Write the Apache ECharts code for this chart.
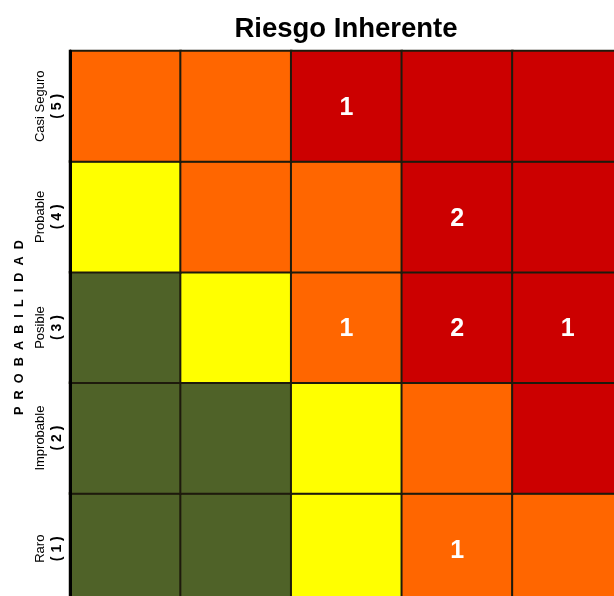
<!DOCTYPE html>
<html>
<head>
<meta charset="utf-8">
<script src="https://cdn.jsdelivr.net/npm/echarts@6/dist/echarts.min.js"></script>
<style>
  html, body { margin: 0; padding: 0; background: #fff; }
  #main { width: 614px; height: 596px; }
</style>
</head>
<body>
<div id="main"></div>
<script>
// impacto (columns) and probabilidad (rows, bottom to top)
var impactCats = ['1', '2', '3', '4', '5'];
var probNames = ['Raro', 'Improbable', 'Posible', 'Probable', 'Casi Seguro'];
var probNums = ['( 1 )', '( 2 )', '( 3 )', '( 4 )', '( 5 )'];

// risk level of each cell: 0 bajo, 1 moderado, 2 alto, 3 extremo
var levelsRaro = [0, 0, 1, 2, 2];
var levelsImprobable = [0, 0, 1, 2, 3];
var levelsPosible = [0, 1, 2, 3, 3];
var levelsProbable = [1, 2, 2, 3, 3];
var levelsCasiSeguro = [2, 2, 3, 3, 3];

// number of risks in each cell
var countsRaro = [0, 0, 0, 1, 0];
var countsImprobable = [0, 0, 0, 0, 0];
var countsPosible = [0, 0, 1, 2, 1];
var countsProbable = [0, 0, 0, 2, 0];
var countsCasiSeguro = [0, 0, 1, 0, 0];

var levelColors = ['#4F6228', '#FFFF00', '#FF6600', '#CC0000'];

var levelRows = [levelsRaro, levelsImprobable, levelsPosible, levelsProbable, levelsCasiSeguro];
var countRows = [countsRaro, countsImprobable, countsPosible, countsProbable, countsCasiSeguro];

var cells = [];
levelRows.forEach(function (row, y) {
  row.forEach(function (lvl, x) {
    cells.push([x, y, lvl, countRows[y][x]]);
  });
});

var chart = echarts.init(document.getElementById('main'));
chart.setOption({
  animation: false,
  textStyle: { fontFamily: 'Liberation Sans, Arial, sans-serif' },
  title: {
    text: 'Riesgo Inherente',
    left: 346,
    top: 15,
    padding: 0,
    textAlign: 'center',
    textStyle: { fontSize: 27.5, fontWeight: 'bold', color: '#000' }
  },
  grid: {
    left: 70,
    top: 51,
    width: 553,
    height: 553,
    outerBoundsMode: 'none'
  },
  xAxis: {
    type: 'category',
    data: impactCats,
    axisLabel: { show: false },
    axisTick: { show: false },
    axisLine: { show: false },
    splitLine: { show: false }
  },
  yAxis: {
    type: 'category',
    data: probNames,
    z: 10,
    name: 'P  R  O  B  A  B  I  L  I  D  A  D',
    nameLocation: 'middle',
    nameGap: 44,
    nameTextStyle: { fontSize: 12.7, fontWeight: 'bold', color: '#000' },
    axisLine: { show: true, lineStyle: { color: '#000', width: 3 } },
    axisTick: { show: false },
    splitLine: { show: false },
    axisLabel: {
      rotate: 90,
      margin: 4,
      formatter: function (value, idx) {
        return '{a|' + value + '}\n{b|' + probNums[idx] + '}';
      },
      rich: {
        a: { fontSize: 13, color: '#000', lineHeight: 17 },
        b: { fontSize: 14, fontWeight: 'bold', color: '#000', lineHeight: 17 }
      }
    }
  },
  visualMap: {
    show: false,
    type: 'piecewise',
    dimension: 2,
    pieces: levelColors.map(function (c, i) { return { value: i, color: c }; })
  },
  series: [{
    type: 'heatmap',
    data: cells,
    itemStyle: { borderColor: '#1e1a0c', borderWidth: 2 },
    label: {
      show: true,
      color: '#fff',
      fontSize: 25,
      fontWeight: 'bold',
      offset: [0, 2],
      formatter: function (p) { return p.data[3] > 0 ? String(p.data[3]) : ''; }
    },
    emphasis: { disabled: true }
  }]
});
</script>
</body>
</html>
